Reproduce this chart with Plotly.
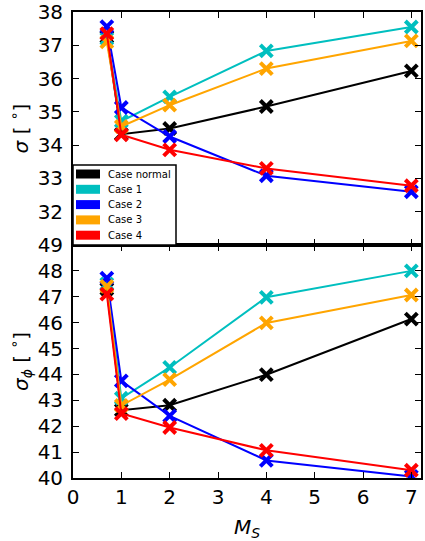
import plotly.graph_objects as go
from plotly.subplots import make_subplots

ms = [0.7, 1, 2, 4, 7]
names = ["Case normal", "Case 1", "Case 2", "Case 3", "Case 4"]
colors = ["black", "#00BFBF", "blue", "orange", "red"]

sigma = {
    "Case normal": [37.25, 34.33, 34.5, 35.16, 36.23],
    "Case 1": [37.2, 34.72, 35.45, 36.83, 37.55],
    "Case 2": [37.56, 35.13, 34.26, 33.08, 32.6],
    "Case 3": [37.1, 34.56, 35.2, 36.3, 37.13],
    "Case 4": [37.35, 34.31, 33.86, 33.3, 32.78],
}
sigma_phi = {
    "Case normal": [47.3, 42.62, 42.81, 43.99, 46.14],
    "Case 1": [47.5, 43.08, 44.27, 46.98, 48.0],
    "Case 2": [47.72, 43.75, 42.4, 40.68, 40.06],
    "Case 3": [47.4, 42.8, 43.8, 45.99, 47.07],
    "Case 4": [47.1, 42.49, 41.95, 41.07, 40.3],
}

top_ticks = [32, 33, 34, 35, 36, 37, 38]
bot_ticks = [40, 41, 42, 43, 44, 45, 46, 47, 48, 49]
x_ticks = [0, 1, 2, 3, 4, 5, 6, 7]

fig = make_subplots(rows=2, cols=1, shared_xaxes=True, vertical_spacing=0)

for name, col in zip(names, colors):
    for row, data in ((1, sigma), (2, sigma_phi)):
        fig.add_trace(go.Scatter(
            x=ms, y=data[name], mode="lines+markers",
            line=dict(color=col, width=2),
            marker=dict(symbol="x-thin", size=12, line=dict(color=col, width=4)),
            showlegend=False, name=name), row=row, col=1)

font = dict(family="DejaVu Sans", size=20, color="black")
axis_common = dict(showline=True, linewidth=1.8, linecolor="black", mirror="allticks",
                   ticks="inside", ticklen=6, tickwidth=1, tickcolor="black",
                   showgrid=False, zeroline=False, tickfont=font, automargin=False)

fig.update_xaxes(range=[0, 7.2], tickvals=x_ticks, **axis_common)
fig.update_xaxes(showticklabels=False, row=1, col=1)
fig.update_xaxes(title=dict(text="<i>M</i><sub><i>S</i></sub>", font=font, standoff=17), row=2, col=1)
fig.update_yaxes(**axis_common)
fig.update_yaxes(range=[31, 38], tickvals=top_ticks, ticklabelstandoff=4,
                 title=dict(text="<i>σ</i> [ <sup>∘</sup>]", font=font, standoff=4), row=1, col=1)
fig.update_yaxes(range=[40, 49], tickvals=bot_ticks, ticklabelstandoff=4,
                 title=dict(text="<i>σ</i><sub><i>ϕ</i></sub> [ <sup>∘</sup>]", font=font, standoff=4), row=2, col=1)

# Manual legend (matplotlib-style patches) in top panel's domain coordinates
W, H = 348.0, 233.0  # plot-area size in px
lx0, lx1 = 0.0, 103.0 / W
ly0, ly1 = 0.0, 80.0 / H
fig.add_shape(type="rect", xref="x domain", yref="y domain",
              x0=lx0, x1=lx1, y0=ly0, y1=ly1,
              fillcolor="white", line=dict(color="black", width=1.5), layer="above")
for i, (name, col) in enumerate(zip(names, colors)):
    yc = (80.0 - 9.0 - i * 15.3) / H
    fig.add_shape(type="rect", xref="x domain", yref="y domain",
                  x0=3.0 / W, x1=27.0 / W, y0=yc - 4.5 / H, y1=yc + 4.5 / H,
                  fillcolor=col, line=dict(width=0), layer="above")
    fig.add_annotation(xref="x domain", yref="y domain", x=33.0 / W, y=yc,
                       text=name, showarrow=False, xanchor="left", yanchor="middle",
                       font=dict(family="DejaVu Sans", size=10, color="black"))

fig.update_layout(
    width=425, height=541,
    margin=dict(l=73, r=4, t=12, b=63),
    paper_bgcolor="white", plot_bgcolor="white",
    showlegend=False,
)

fig.write_html("out.html")
